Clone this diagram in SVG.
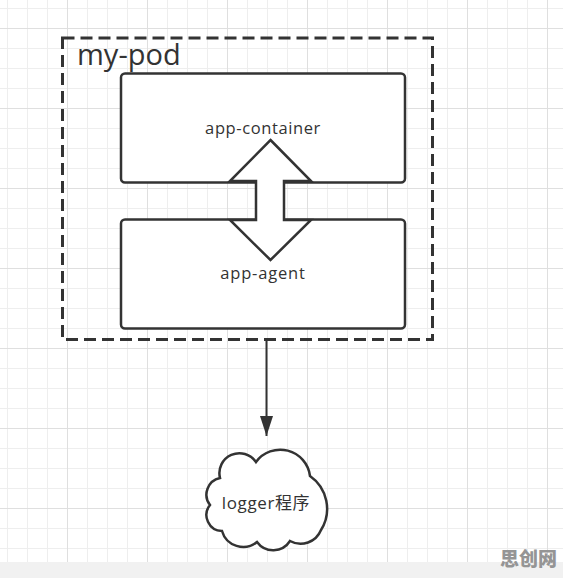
<svg xmlns="http://www.w3.org/2000/svg" width="563" height="578" viewBox="0 0 563 578">
  <defs>
    <pattern id="minor" patternUnits="userSpaceOnUse" x="7" y="8" width="20" height="20">
      <path d="M0 0.5 H20 M0.5 0 V20" stroke="#eeeeee" stroke-width="1" fill="none"/>
    </pattern>
    <pattern id="major" patternUnits="userSpaceOnUse" x="67" y="28" width="80" height="80">
      <path d="M0 0.5 H80 M0.5 0 V80" stroke="#dfdfdf" stroke-width="1" fill="none"/>
    </pattern>
    <marker id="arrowhead" viewBox="0 0 13 20" refX="6.5" refY="20" markerWidth="13" markerHeight="20" markerUnits="userSpaceOnUse" orient="0">
      <path d="M0 0 L13 0 L6.5 20 Z" fill="#333"/>
    </marker>
    <style>
      .shape { fill: #fff; stroke: #333; stroke-width: 2.5; stroke-linejoin: miter; }
      .label { font-family: "Open Sans", "Noto Sans CJK SC", sans-serif; fill: #333; }
      .edge { stroke: #333; stroke-width: 2; fill: none; }
    </style>
  </defs>

  <!-- background grid -->
  <rect x="0" y="0" width="563" height="578" fill="#fff"/>
  <rect x="0" y="0" width="563" height="562" fill="url(#minor)"/>
  <rect x="0" y="0" width="563" height="562" fill="url(#major)"/>
  <rect x="0" y="562" width="563" height="16" fill="#f1f1f1"/>

  <g id="my-pod">
    <rect x="62.5" y="38" width="370" height="301.5" fill="none" stroke="#333" stroke-width="3" stroke-dasharray="12 6"/>
    <text class="label" x="77" y="65" font-size="29">my-pod</text>
  </g>

  <g id="app-container">
    <rect class="shape" x="121" y="73.5" width="284" height="109" rx="4"/>
    <text class="label" x="263" y="134" font-size="16.5" letter-spacing="0.6" text-anchor="middle">app-container</text>
  </g>

  <g id="app-agent">
    <rect class="shape" x="121" y="219.5" width="284" height="109" rx="4"/>
    <text class="label" x="263" y="279" font-size="16.5" letter-spacing="0.8" text-anchor="middle">app-agent</text>
  </g>

  <g id="double-arrow">
    <polygon class="shape" points="270.5,140 311,181 284,181 284,220 311,220 270.5,260 230,220 256,220 256,181 230,181"/>
  </g>

  <g id="logger">
    <path class="shape" d="M220 478 A20 20 0 0 1 256 462 A30 30 0 0 1 310 476 A40 40 0 0 1 321 530 A22 22 0 0 1 290 541 A20 20 0 0 1 257 542 A22 22 0 0 1 222 531 A16 16 0 0 1 210 505 A17 17 0 0 1 220 478 Z"/>
    <text class="label" x="266" y="509" font-size="17" letter-spacing="0.6" text-anchor="middle">logger程序</text>
  </g>

  <g id="connectors">
    <line class="edge" x1="266.5" y1="341" x2="266.5" y2="436" marker-end="url(#arrowhead)"/>
  </g>

  <text x="557" y="566" font-family="'Noto Sans CJK SC', sans-serif" font-size="19" font-weight="900" fill="#959595" text-anchor="end">思创网</text>
</svg>
